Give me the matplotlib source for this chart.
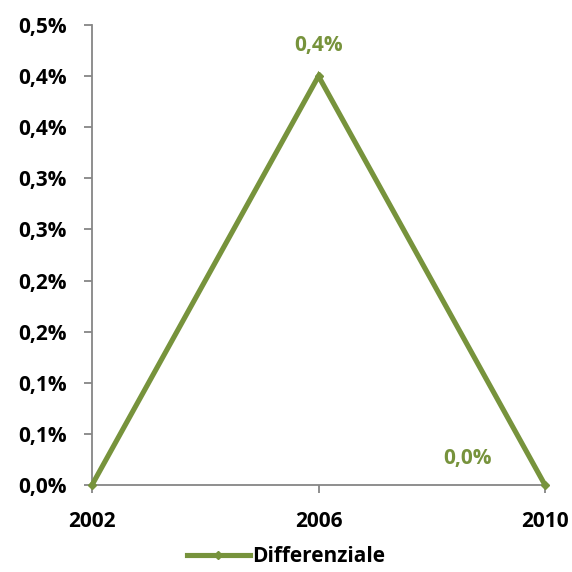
import matplotlib
matplotlib.use("Agg")
import matplotlib.pyplot as plt
from matplotlib.ticker import FuncFormatter, MultipleLocator
from decimal import Decimal, ROUND_HALF_UP

years = [2002, 2006, 2010]
values = [0.0, 0.0040, 0.0]
series_name = "Differenziale"

green = "#77933C"
plt.rcParams['font.family'] = ['Open Sans', 'DejaVu Sans']
plt.rcParams['font.weight'] = 'bold'

fig = plt.figure(figsize=(5.72, 5.72), dpi=100)
ax = fig.add_axes([92/572, (572-485)/572, (545-92)/572, (485-25)/572])

ax.plot(years, values, color=green, lw=3.7, marker='D', ms=4, label=series_name,
        solid_joinstyle='miter', clip_on=False, zorder=3)

ax.set_xlim(2002, 2010)
ax.set_ylim(0, 0.0045)
ax.set_xticks(years)
ax.set_xticklabels([str(y) for y in years])
ax.yaxis.set_major_locator(MultipleLocator(0.0005))

def fmt(v, pos):
    d = Decimal(str(round(v * 100, 6))).quantize(Decimal('0.1'), rounding=ROUND_HALF_UP)
    return f"{d}%".replace('.', ',')
ax.yaxis.set_major_formatter(FuncFormatter(fmt))

for s in ['top', 'right']:
    ax.spines[s].set_visible(False)
for s in ['left', 'bottom']:
    ax.spines[s].set_color('#868686')
    ax.spines[s].set_linewidth(1.3)
ax.tick_params(axis='both', colors='#868686', length=6, width=1.3, labelcolor='black', labelsize=15)
ax.tick_params(axis='y', pad=12)
ax.tick_params(axis='x', pad=13)
for lab in ax.get_xticklabels() + ax.get_yticklabels():
    lab.set_fontweight('bold')

# data labels
ax.annotate(fmt(values[1], None), (years[1], values[1]), xytext=(0, 22), textcoords='offset points',
            ha='center', va='center', color=green, fontsize=15, fontweight='bold')
ax.annotate(fmt(values[2], None), (years[2], values[2]), xytext=(-56, 19), textcoords='offset points',
            ha='center', va='center', color=green, fontsize=15, fontweight='bold')

leg = fig.legend(handles=ax.get_lines(), labels=[series_name], loc='center',
                 bbox_to_anchor=(0.5, (572-557)/572),
                 frameon=False, fontsize=15, handlelength=3.0, handletextpad=0.1)
for t in leg.get_texts():
    t.set_fontweight('bold')

fig.savefig("out.png", dpi=100)
